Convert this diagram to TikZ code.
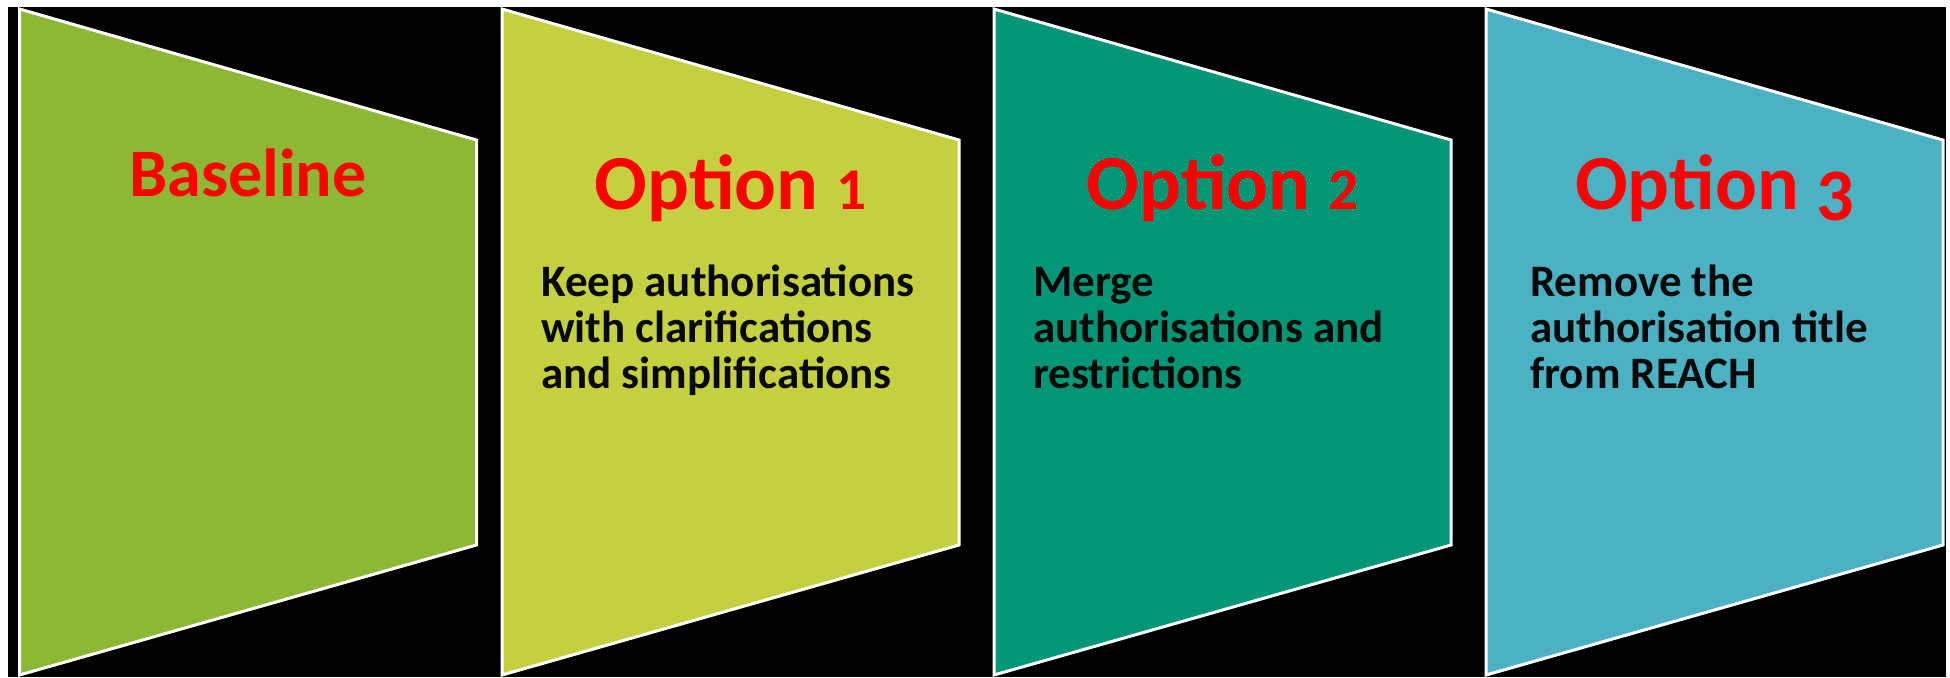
\documentclass[tikz,border=0pt]{standalone}
\usepackage{fontspec}
\usepackage{graphicx}
\setmainfont{Carlito}
\definecolor{bgblack}{RGB}{0,0,0}
\definecolor{shA}{RGB}{140,184,52}
\definecolor{shB}{RGB}{196,208,62}
\definecolor{shC}{RGB}{0,150,118}
\definecolor{shD}{RGB}{75,178,196}
\definecolor{titlered}{RGB}{255,0,0}
\definecolor{bodyblack}{RGB}{8,8,8}
% old-style figure look, built from the lining digits
\newcommand{\osfsmall}[1]{\scalebox{0.76}{#1}}
\newcommand{\osfdrop}[1]{\raisebox{-0.15em}{\scalebox{0.95}{#1}}}
\tikzset{
  panel/.style={draw=white, line width=3pt, line join=miter},
  titletext/.style={inner sep=0pt, anchor=base, text=titlered,
    font=\fontsize{78}{78}\selectfont\bfseries},
  bodytext/.style={inner sep=0pt, anchor=base west, align=left, text=bodyblack,
    font=\fontsize{45}{46}\selectfont\bfseries}
}
\begin{document}
\begin{tikzpicture}[x=1pt,y=-1pt]
\useasboundingbox (0,0) rectangle (1950,677);
\fill[white] (0,0) rectangle (1950,677);
\fill[bgblack] (8,7) rectangle (1946,677);
% panels
\foreach \L/\c in {19.5/shA, 502/shB, 994/shC, 1486/shD}{
  \path[panel, fill=\c] (\L,9) -- (\L+457,140) -- (\L+457,545) -- (\L,675) -- cycle;
}
% titles
\node[titletext, font=\fontsize{68}{68}\selectfont\bfseries] (t0) at (248,196) {Baseline};
\node[titletext] (t1) at (730.5,209) {Option \osfsmall{1}};
\node[titletext] (t2) at (1222.5,209) {Option \osfsmall{2}};
\node[titletext] (t3) at (1714.5,209) {Option \osfdrop{3}};
% bodies (base anchor = baseline of last line)
\node[bodytext] (b1) at (541,388) {Keep authorisations\\with clarifications\\and simplifications};
\node[bodytext] (b2) at (1033,388) {Merge\\authorisations and\\restrictions};
\node[bodytext] (b3) at (1530,388) {Remove the\\authorisation title\\from REACH};
\end{tikzpicture}
\end{document}
